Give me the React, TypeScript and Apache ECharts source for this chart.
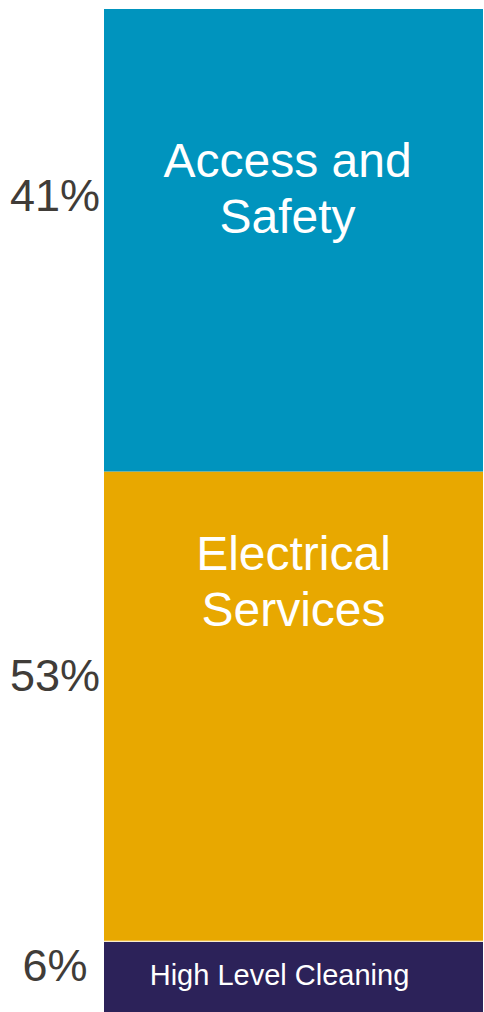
import React, { useEffect, useRef } from "react";
import * as echarts from "echarts";

// Segments, bottom to top
const categories = ["High Level Cleaning", "Electrical Services", "Access and Safety"];
const segmentLabels = ["High Level Cleaning", "Electrical\nServices", "Access and\nSafety"];
// Segment heights as drawn in the picture (share of the column)
const shares = [7.0, 46.9, 46.1];
// Percentage labels printed at the left
const percentLabels = ["6%", "53%", "41%"];

const colors = ["#2C2259", "#E8A800", "#0094BE"];
const innerFontSizes = [29, 48, 48];
const innerOffsets: [number, number][] = [[-14, -2], [0, -125], [-6, -52]];
const leftOffsets = [-11, -31, -45];
const FONT = "'Liberation Sans', Arial, sans-serif";

export default function App() {
  const ref = useRef<HTMLDivElement>(null);
  useEffect(() => {
    if (!ref.current) return;
    const chart = echarts.init(ref.current, null, { renderer: "svg" });
    const total = shares.reduce((a, b) => a + b, 0);
    chart.setOption({
      animation: false,
      grid: { left: 104, right: 1, top: 9, bottom: 0, containLabel: false },
      xAxis: { type: "category", data: [""], show: false },
      yAxis: { type: "value", min: 0, max: total, show: false },
      series: categories.map((name, i) => ({
        name,
        type: "bar",
        stack: "total",
        barWidth: "100%",
        barCategoryGap: 0,
        data: [shares[i]],
        itemStyle: { color: colors[i] },
        label: { show: false },
      })),
    });
    const cx = chart.convertToPixel({ xAxisIndex: 0 }, 0) as number;
    const graphics: any[] = [];
    // thin white separator above the bottom segment
    const sepY = chart.convertToPixel({ yAxisIndex: 0 }, shares[0]) as number;
    graphics.push({
      type: "rect",
      z: 100,
      shape: { x: 104, y: sepY - 1, width: 379, height: 1 },
      style: { fill: "#FFFFFF" },
    });
    let cum = 0;
    shares.forEach((v, i) => {
      const py = chart.convertToPixel({ yAxisIndex: 0 }, cum + v / 2) as number;
      cum += v;
      graphics.push({
        type: "text",
        x: 55,
        y: py + leftOffsets[i],
        z: 100,
        style: {
          text: percentLabels[i],
          fontSize: 45,
          fontFamily: FONT,
          fill: "#403C38",
          align: "center",
          verticalAlign: "middle",
        },
      });
      graphics.push({
        type: "text",
        x: cx + innerOffsets[i][0],
        y: py + innerOffsets[i][1],
        z: 100,
        style: {
          text: segmentLabels[i],
          fontSize: innerFontSizes[i],
          lineHeight: 56,
          fontFamily: FONT,
          fill: "#FFFFFF",
          align: "center",
          verticalAlign: "middle",
        },
      });
    });
    chart.setOption({ graphic: graphics });
    return () => chart.dispose();
  }, []);
  return (
    <div
      ref={ref}
      style={{ position: "absolute", left: 0, top: 0, width: 484, height: 1012, background: "#fff" }}
    />
  );
}
